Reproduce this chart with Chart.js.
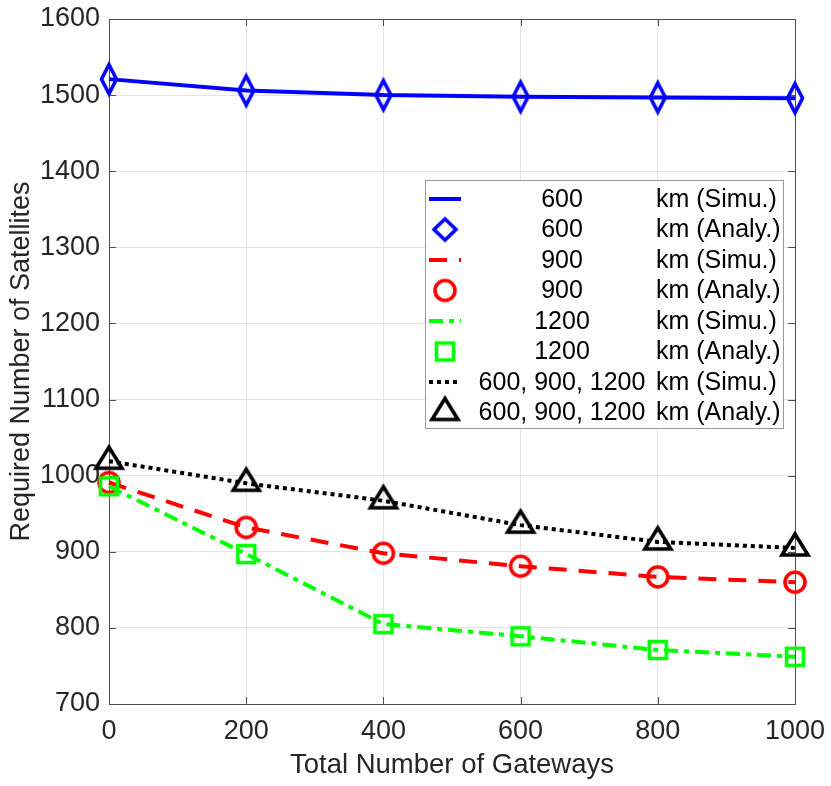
<!DOCTYPE html>
<html>
<head>
<meta charset="utf-8">
<script src="https://cdn.jsdelivr.net/npm/chart.js@4"></script>
<style>
  body { margin: 0; background: #fff; }
  #myChart { display: block; }
</style>
</head>
<body>
<canvas id="myChart" width="831" height="786"></canvas>
<script>
// values
const gateways = [0, 200, 400, 600, 800, 1000];
const sat600 = [1521, 1506, 1500, 1498, 1497, 1496];
const sat900 = [991, 932, 898, 881, 867, 860];
const sat1200 = [986, 897, 805, 789, 771, 762];
const satAll = [1019, 990, 967, 935, 913, 905];

const altLabels = ['600', '600', '900', '900', '1200', '1200', '600, 900, 1200', '600, 900, 1200'];
const kindLabels = ['km (Simu.)', 'km (Analy.)'];

const xTitle = 'Total Number of Gateways';
const yTitle = 'Required Number of Satellites';

const FONT = '"Liberation Sans", Arial, Helvetica, sans-serif';

function makeMarker (shape, color, forLegend) {
    const c = document.createElement('canvas');
    const ctx = c.getContext('2d');
    const lw = 3.6;
    if (shape === 'diamond' && forLegend) {
        c.width = 32; c.height = 32;
        ctx.beginPath();
        ctx.moveTo(16, 5.5);
        ctx.lineTo(27, 16);
        ctx.lineTo(16, 26.5);
        ctx.lineTo(5, 16);
        ctx.closePath();
    } else if (shape === 'diamond') {
        c.width = 24; c.height = 38;
        ctx.beginPath();
        ctx.moveTo(12, 4.5);
        ctx.lineTo(19.5, 19);
        ctx.lineTo(12, 33.5);
        ctx.lineTo(4.5, 19);
        ctx.closePath();
    } else if (shape === 'circle') {
        c.width = 28; c.height = 28;
        ctx.beginPath();
        ctx.arc(14, 14, 10, 0, Math.PI * 2);
    } else if (shape === 'square') {
        c.width = 26; c.height = 26;
        ctx.beginPath();
        ctx.rect(4.5, 4.5, 17, 17);
    } else {
        // triangle, centroid in the middle of the canvas
        c.width = 36; c.height = 38;
        ctx.beginPath();
        ctx.moveTo(18, 19 - 14);
        ctx.lineTo(31, 19 + 7);
        ctx.lineTo(5, 19 + 7);
        ctx.closePath();
    }
    ctx.lineWidth = lw;
    ctx.lineJoin = 'miter';
    ctx.strokeStyle = color;
    ctx.stroke();
    return c;
}

function toPoints (values) {
    return gateways.map((g, i) => ({ x: g, y: values[i] }));
}

function lineSet (values, color, dash, idx) {
    return {
        label: altLabels[idx] + ' ' + kindLabels[0],
        data: toPoints(values),
        borderColor: color,
        backgroundColor: color,
        borderWidth: 4,
        borderDash: dash,
        pointRadius: 0,
        pointHoverRadius: 0,
        tension: 0,
        clip: false,
        order: 10 - idx
    };
}

function markerSet (values, color, shape, idx) {
    return {
        label: altLabels[idx] + ' ' + kindLabels[1],
        data: toPoints(values),
        borderColor: color,
        backgroundColor: 'transparent',
        showLine: false,
        pointStyle: makeMarker(shape, color, false),
        legendMarker: makeMarker(shape, color, true),
        pointRadius: 10,
        pointHoverRadius: 10,
        clip: false,
        order: 10 - idx
    };
}

const datasets = [
    lineSet(sat600, '#0000ff', [], 0),
    markerSet(sat600, '#0000ff', 'diamond', 1),
    lineSet(sat900, '#ff0000', [18, 12], 2),
    markerSet(sat900, '#ff0000', 'circle', 3),
    lineSet(sat1200, '#00ff00', [14, 6, 5, 6], 4),
    markerSet(sat1200, '#00ff00', 'square', 5),
    lineSet(satAll, '#000000', [4, 4], 6),
    markerSet(satAll, '#000000', 'triangle', 7)
];

// box round the axes with inward ticks, like MATLAB
const boxPlugin = {
    id: 'boxPlugin',
    beforeDatasetsDraw (chart) {
        const { ctx, chartArea: a, scales } = chart;
        const tl = 7;
        ctx.save();
        ctx.strokeStyle = '#4d4d4d';
        ctx.lineWidth = 1;
        ctx.beginPath();
        scales.x.ticks.forEach(t => {
            const px = Math.round(scales.x.getPixelForValue(t.value)) + 0.5;
            ctx.moveTo(px, a.bottom); ctx.lineTo(px, a.bottom - tl);
            ctx.moveTo(px, a.top); ctx.lineTo(px, a.top + tl);
        });
        scales.y.ticks.forEach(t => {
            const py = Math.round(scales.y.getPixelForValue(t.value)) + 0.5;
            ctx.moveTo(a.left, py); ctx.lineTo(a.left + tl, py);
            ctx.moveTo(a.right, py); ctx.lineTo(a.right - tl, py);
        });
        ctx.stroke();
        ctx.strokeRect(Math.round(a.left) + 0.5, Math.round(a.top) + 0.5,
            Math.round(a.right - a.left), Math.round(a.bottom - a.top));
        ctx.restore();
    }
};

// legend drawn inside the axes
const legendPlugin = {
    id: 'boxLegend',
    afterDraw (chart) {
        const { ctx, chartArea: a } = chart;
        const w = 358, h = 248;
        const left = a.right - 12 - w;
        const top = a.top + 161;
        const rowH = 30.5;
        ctx.save();
        ctx.fillStyle = '#ffffff';
        ctx.fillRect(left, top, w, h);
        ctx.strokeStyle = '#999999';
        ctx.lineWidth = 1;
        ctx.strokeRect(Math.round(left) + 0.5, Math.round(top) + 0.5, w, h);

        ctx.font = '25px ' + FONT;
        ctx.fillStyle = '#000000';
        ctx.textBaseline = 'middle';
        chart.data.datasets.forEach((ds, i) => {
            const cy = top + 19 + i * rowH;
            if (ds.showLine === false) {
                const img = ds.legendMarker;
                ctx.drawImage(img, left + 20 - img.width / 2, cy - img.height / 2);
            } else {
                ctx.save();
                ctx.strokeStyle = ds.borderColor;
                ctx.lineWidth = ds.borderWidth;
                ctx.setLineDash(ds.borderDash);
                ctx.beginPath();
                ctx.moveTo(left + 4, cy);
                ctx.lineTo(left + 36, cy);
                ctx.stroke();
                ctx.restore();
            }
            const cut = ds.label.indexOf(' km');
            ctx.textAlign = 'center';
            ctx.fillText(ds.label.slice(0, cut), left + 137, cy + 1);
            ctx.textAlign = 'left';
            ctx.fillText(ds.label.slice(cut + 1), left + 231, cy + 1);
        });
        ctx.restore();
    }
};

const config = {
    type: 'line',
    data: { datasets },
    options: {
        responsive: false,
        animation: false,
        events: [],
        layout: { padding: { left: 0, top: 19, right: 36, bottom: 0 } },
        plugins: {
            legend: { display: false },
            tooltip: { enabled: false }
        },
        scales: {
            x: {
                type: 'linear',
                min: 0,
                max: 1000,
                ticks: {
                    stepSize: 200,
                    padding: 11,
                    color: '#262626',
                    font: { family: FONT, size: 27 },
                    maxRotation: 0,
                    callback: v => String(v)
                },
                grid: { color: '#e3e3e3', drawTicks: false },
                border: { display: false },
                title: {
                    display: true,
                    text: xTitle,
                    color: '#262626',
                    font: { family: FONT, size: 27.5 },
                    padding: { top: 0, bottom: 4 }
                },
                afterFit (scale) {
                    scale.height = 82;
                    scale.paddingLeft = 0;
                    scale.paddingRight = 0;
                }
            },
            y: {
                min: 700,
                max: 1600,
                ticks: {
                    stepSize: 100,
                    padding: 9,
                    color: '#262626',
                    font: { family: FONT, size: 27 },
                    callback: v => String(v)
                },
                grid: { color: '#e3e3e3', drawTicks: false },
                border: { display: false },
                title: {
                    display: true,
                    text: yTitle,
                    color: '#262626',
                    font: { family: FONT, size: 27 },
                    padding: { top: 5, bottom: 0 }
                },
                afterFit (scale) {
                    scale.width = 109;
                    scale.paddingTop = 0;
                    scale.paddingBottom = 0;
                }
            }
        }
    },
    plugins: [boxPlugin, legendPlugin]
};

const myChart = new Chart(document.getElementById('myChart'), config);
</script>
</body>
</html>
